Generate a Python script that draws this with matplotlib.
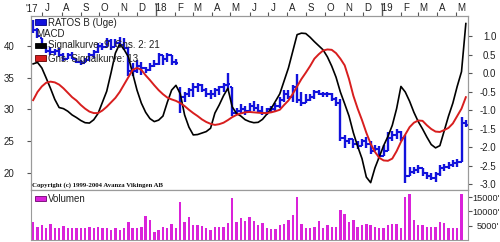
import matplotlib
matplotlib.use("Agg")
import matplotlib.pyplot as plt
import numpy as np
import pandas as pd
from matplotlib.patches import Rectangle

plt.rcParams['font.family'] = ['Liberation Sans', 'DejaVu Sans']
plt.rcParams['axes.unicode_minus'] = False

# ---------------- data ----------------
first_week = "2017-06-16"

opens = [43.5, 42.5, 41.3, 40.0, 39.2, 39.0, 39.2, 38.5, 38.0, 38.5,
         38.0, 37.5, 37.3, 37.8, 38.5, 39.0, 40.0, 39.8, 40.8, 39.8,
         40.5, 40.2, 39.7, 36.0, 36.0, 36.8, 36.5, 36.2, 36.9, 37.2,
         38.5, 38.0, 38.6, 37.5, 33.0, 32.0, 32.5, 33.0, 33.5, 33.8,
         33.0, 32.5, 32.5, 33.0, 33.5, 33.8, 33.5, 29.5, 29.8, 30.0,
         29.8, 30.5, 30.3, 29.8, 29.5, 30.0, 30.0, 30.5, 31.5, 32.5,
         32.0, 33.5, 31.5, 31.0, 31.5, 32.0, 32.8, 32.5, 32.5, 32.5,
         31.7, 31.0, 25.5, 25.0, 25.3, 24.5, 24.3, 25.0, 24.5, 23.5,
         23.8, 22.7, 23.5, 25.5, 26.0, 26.5, 25.5, 19.5, 20.2, 20.5,
         20.8, 20.0, 19.5, 19.3, 19.8, 20.8, 21.0, 21.3, 21.6, 21.8,
         27.8]
highs = [44.0, 42.8, 41.3, 40.0, 39.8, 39.5, 39.7, 38.8, 38.8, 39.0,
         38.1, 37.8, 38.1, 38.8, 39.4, 40.5, 40.5, 41.3, 41.0, 41.0,
         41.4, 41.2, 39.8, 37.3, 37.8, 37.5, 36.7, 37.3, 37.8, 38.9,
         38.6, 38.9, 38.6, 38.0, 33.5, 32.8, 33.4, 34.2, 34.2, 34.0,
         33.4, 33.1, 33.4, 33.7, 34.2, 35.8, 33.5, 30.3, 30.8, 30.5,
         31.0, 31.3, 30.8, 30.5, 30.3, 30.5, 31.0, 31.9, 33.1, 33.1,
         33.9, 35.5, 32.7, 32.5, 32.5, 33.1, 33.0, 32.8, 32.8, 32.6,
         32.0, 31.6, 26.0, 25.5, 25.3, 25.0, 25.4, 25.7, 25.0, 24.4,
         24.2, 24.4, 26.4, 26.6, 27.0, 26.6, 26.0, 21.0, 21.0, 21.2,
         20.8, 20.2, 20.0, 20.2, 21.2, 21.4, 21.8, 22.0, 22.2, 28.8,
         28.4]
lows = [42.0, 41.2, 39.5, 38.8, 38.6, 38.6, 38.3, 37.6, 37.9, 37.9,
        37.3, 37.0, 37.3, 37.6, 38.1, 38.9, 39.4, 39.8, 39.4, 39.8,
        39.8, 39.4, 35.2, 35.2, 35.8, 35.4, 35.8, 36.0, 36.6, 37.0,
        37.0, 37.5, 37.0, 37.0, 29.5, 31.1, 31.9, 32.0, 32.7, 32.7,
        31.9, 31.6, 32.0, 32.3, 32.7, 33.1, 29.0, 29.2, 29.5, 29.2,
        29.5, 29.7, 29.5, 29.2, 29.2, 29.5, 29.7, 30.3, 31.1, 31.6,
        31.1, 31.0, 30.5, 31.0, 31.3, 31.6, 32.2, 32.0, 32.0, 31.3,
        30.5, 25.0, 24.0, 24.5, 24.0, 23.8, 24.2, 24.0, 23.0, 23.4,
        22.2, 22.7, 23.5, 25.0, 25.3, 25.0, 18.5, 19.5, 19.8, 20.0,
        19.5, 19.1, 18.9, 18.6, 19.5, 20.3, 20.6, 20.9, 20.9, 21.8,
        27.3]
closes = [42.5, 41.5, 40.0, 39.2, 39.0, 39.2, 38.5, 38.0, 38.5, 38.0,
          37.5, 37.3, 37.8, 38.5, 39.0, 40.0, 39.8, 40.8, 39.8, 40.5,
          40.2, 39.7, 36.0, 36.0, 36.8, 36.5, 36.2, 36.9, 37.2, 38.5,
          38.0, 38.6, 37.5, 37.3, 32.0, 32.5, 33.0, 33.5, 33.8, 33.0,
          32.5, 32.5, 33.0, 33.5, 33.8, 34.0, 29.5, 29.8, 30.0, 29.8,
          30.5, 30.3, 29.8, 29.5, 30.0, 30.0, 30.5, 31.5, 32.5, 32.0,
          33.5, 31.5, 31.0, 31.5, 32.0, 32.8, 32.5, 32.5, 32.5, 31.7,
          31.0, 25.5, 25.0, 25.3, 24.5, 24.3, 25.0, 24.5, 23.5, 23.8,
          22.7, 23.5, 25.5, 26.0, 26.5, 25.5, 19.5, 20.2, 20.5, 20.8,
          20.0, 19.5, 19.3, 19.8, 20.8, 21.0, 21.3, 21.6, 21.8, 27.8,
          27.5]

macd = [0.26, 0.30, 0.15, -0.12, -0.40, -0.70, -0.92, -0.95, -1.02, -1.12,
        -1.19, -1.27, -1.33, -1.34, -1.25, -1.08, -0.78, -0.48, 0.02, 0.55,
        0.80, 0.65, 0.45, 0.00, -0.45, -0.80, -1.05, -1.22, -1.30, -1.26,
        -1.15, -0.78, -0.45, -0.32, -0.55, -1.12, -1.45, -1.66, -1.65, -1.61,
        -1.57, -1.48, -1.07, -0.85, -0.60, -0.40, -0.90, -1.08, -1.15, -1.25,
        -1.30, -1.33, -1.32, -1.24, -1.10, -0.95, -0.75, -0.55, -0.20, 0.15,
        0.60, 1.05, 1.09, 1.08, 0.98, 0.86, 0.75, 0.64, 0.45, 0.20,
        -0.10, -0.50, -0.82, -1.15, -1.60, -1.97, -2.30, -2.80, -2.95, -2.55,
        -2.25, -1.95, -1.70, -1.40, -0.95, -0.35, -0.50, -0.75, -1.05, -1.30,
        -1.50, -1.72, -1.92, -2.01, -1.95, -1.55, -1.15, -0.80, -0.35, 0.05,
        1.35]
signal = [-0.72, -0.50, -0.35, -0.25, -0.22, -0.24, -0.30, -0.40, -0.52, -0.64,
          -0.73, -0.85, -0.95, -1.03, -1.07, -1.07, -1.00, -0.90, -0.78, -0.66,
          -0.50, -0.30, -0.10, 0.10, 0.15, 0.10, -0.05, -0.18, -0.32, -0.45,
          -0.56, -0.65, -0.70, -0.74, -0.80, -0.88, -0.98, -1.07, -1.15, -1.24,
          -1.31, -1.36, -1.39, -1.37, -1.33, -1.26, -1.18, -1.12, -1.08, -1.05,
          -1.04, -1.05, -1.06, -1.07, -1.07, -1.05, -1.02, -0.98, -0.85, -0.73,
          -0.55, -0.35, -0.15, 0.02, 0.20, 0.40, 0.52, 0.62, 0.65, 0.64,
          0.55, 0.40, 0.22, -0.15, -0.60, -0.95, -1.26, -1.60, -1.90, -2.12,
          -2.28, -2.35, -2.36, -2.30, -2.10, -1.85, -1.65, -1.45, -1.33, -1.27,
          -1.28, -1.40, -1.50, -1.57, -1.58, -1.53, -1.47, -1.35, -1.15, -0.95,
          -0.64]

volume = [6400, 4700, 5250, 4100, 5500, 4300, 4100, 5000, 4100, 4300,
          4100, 4300, 4300, 4700, 4100, 4700, 4100, 4100, 3500, 4100,
          3500, 4100, 6400, 4100, 4100, 4700, 8400, 7000, 2900, 3500,
          4700, 4300, 5500, 4100, 13400, 6400, 7900, 5250, 5250, 5000,
          4100, 3500, 4700, 4700, 4700, 5800, 14600, 6200, 7600, 6650,
          7900, 6650, 5250, 5800, 4100, 3850, 3850, 5250, 5500, 7000,
          8750, 15200, 5500, 4100, 4100, 4700, 6650, 4100, 5250, 4700,
          4700, 10500, 9100, 6400, 7000, 4700, 5250, 5500, 5250, 4700,
          4300, 4100, 5250, 5500, 5500, 4100, 15200, 16000, 7000, 5250,
          5250, 4700, 4700, 4700, 6400, 5800, 4100, 4100, 4100, 16000,
          0]

month_starts = ["2017-07-01", "2017-08-01", "2017-09-01", "2017-10-01", "2017-11-01",
                "2017-12-01", "2018-01-01", "2018-02-01", "2018-03-01", "2018-04-01",
                "2018-05-01", "2018-06-01", "2018-07-01", "2018-08-01", "2018-09-01",
                "2018-10-01", "2018-11-01", "2018-12-01", "2019-01-01", "2019-02-01",
                "2019-03-01", "2019-04-01", "2019-05-01"]
month_labels = ["J", "A", "S", "O", "N", "D", "'18", "F", "M", "A", "M", "J",
                "J", "A", "S", "O", "N", "D", "'19", "F", "M", "A", "M"]
price_ticks = [20, 25, 30, 35, 40]
macd_ticks = [-3.0, -2.5, -2.0, -1.5, -1.0, -0.5, 0.0, 0.5, 1.0]
vol_ticks = [5000, 10000, 15000]
vol_labels = ["5000'", "10000'", "15000'"]

legend_items = ["RATOS B (Uge)", "MACD", "Signalkurve: 9, Gns. 2: 21", "Gns. Signalkurve: 13"]

# ---------------- styling ----------------
W, H = 500, 242
BLUE = "#1212DC"
RED = "#D81E1E"
MAG = "#DA22DA"
FRAME = "#9a9a9a"
TXT = "#222222"
FS = 7


def fx(x):
    return x / W


def fy(y):
    return 1 - y / H


weeks = np.arange(len(closes))
start = pd.Timestamp(first_week)
mpos = np.array([(pd.Timestamp(m) - start).days / 7.0 for m in month_starts])
lpos = mpos + 8 / 7.0

fig = plt.figure(figsize=(W / 100, H / 100), dpi=100)
fig.patch.set_facecolor("white")

left, right, top, mid, bottom = 31, 468, 16, 190, 240
ax = fig.add_axes([fx(left), fy(mid), fx(right - left), (mid - top) / H])
axv = fig.add_axes([fx(left), fy(bottom), fx(right - left), (bottom - mid) / H])

xlim = (-0.5, len(closes) - 0.5)

# price bars
ax.vlines(weeks, lows, highs, color=BLUE, lw=1.7, zorder=2)
ax.hlines(opens, weeks - 0.5, weeks, color=BLUE, lw=1.5, zorder=2)
ax.hlines(closes, weeks, weeks + 0.5, color=BLUE, lw=1.5, zorder=2)
ax.set_xlim(*xlim)
ax.set_ylim(17.34, 44.69)

# macd
ax2 = ax.twinx()
ax2.plot(weeks, macd, color="black", lw=1.2, zorder=3)
ax2.plot(weeks, signal, color=RED, lw=1.4, zorder=3)
ax2.set_ylim(-3.149, 1.554)
ax2.set_xlim(*xlim)

# top month axis
ax.xaxis.set_ticks_position("top")
ax.set_xticks(mpos)
ax.set_xticklabels([""] * len(mpos))
ax.set_xticks(lpos, minor=True)
ax.set_xticklabels(month_labels, minor=True)
ax.tick_params(axis="x", which="major", top=True, bottom=False, length=3,
               width=0.8, color="#555555", labeltop=False, labelbottom=False)
ax.tick_params(axis="x", which="minor", top=True, bottom=False, length=0,
               labeltop=True, labelbottom=False, labelsize=FS, pad=2.5, labelcolor=TXT)
for t, lab in zip(ax.xaxis.get_major_ticks(), month_labels):
    if lab.startswith("'"):
        t.tick2line.set_markersize(9.5)
        t.tick2line.set_color("#333333")
        t.tick2line.set_markeredgewidth(1.0)
fig.text(fx(32), fy(9.5), "'17", fontsize=FS, color=TXT, ha="center", va="center")

# left price axis
ax.set_yticks(price_ticks)
ax.set_yticklabels([str(v) for v in price_ticks])
ax.tick_params(axis="y", left=True, length=3, width=0.8, color="#555555",
               labelsize=FS, pad=9, labelcolor=TXT)

# right macd axis
ax2.set_yticks(macd_ticks)
ax2.set_yticklabels(["%.1f" % v for v in macd_ticks])
ax2.tick_params(axis="y", right=True, length=3, width=0.8, color="#555555",
                labelsize=FS, pad=17.5, labelcolor=TXT)
for lab in ax2.get_yticklabels():
    lab.set_horizontalalignment("right")

for a in (ax, ax2):
    for s in a.spines.values():
        s.set_color(FRAME)
        s.set_linewidth(0.8)

# volume
axv.bar(weeks, volume, width=0.55, color=MAG, zorder=2)
axv.set_xlim(*xlim)
axv.set_ylim(0, 17480)
axv.set_xticks([])
axv.yaxis.set_ticks_position("right")
axv.set_yticks(vol_ticks)
axv.set_yticklabels(vol_labels)
axv.tick_params(axis="y", right=True, left=False, length=3, width=0.8, color="#555555",
                labelsize=6.6, pad=19.5, labelcolor=TXT)
for lab in axv.get_yticklabels():
    lab.set_horizontalalignment("right")
for s in axv.spines.values():
    s.set_color(FRAME)
    s.set_linewidth(0.8)

# legend (drawn over the data)
def box(x, y, color, edge):
    fig.patches.append(Rectangle((fx(x), fy(y + 5)), fx(11), 5 / H, transform=fig.transFigure,
                                 facecolor=color, edgecolor=edge, lw=0.6, zorder=5))

box(35, 19.5, BLUE, "#000080")
fig.text(fx(48), fy(22.5), legend_items[0], fontsize=FS, color=TXT, va="center", ha="left", zorder=6)
fig.text(fx(36), fy(34), legend_items[1], fontsize=FS, color=TXT, va="center", ha="left", zorder=6)
box(35, 42.5, "black", "black")
fig.text(fx(48), fy(45.5), legend_items[2], fontsize=FS, color=TXT, va="center", ha="left", zorder=6)
box(35, 55.5, RED, "#600000")
fig.text(fx(48), fy(58.5), legend_items[3], fontsize=FS, color=TXT, va="center", ha="left", zorder=6)

fig.text(fx(32), fy(185), "Copyright (c) 1999-2004 Avanza Vikingen AB", fontsize=4.9,
         family=["Liberation Serif", "DejaVu Serif"], color="#111111", va="center", ha="left",
         fontweight="bold", zorder=6)

box(35, 196, MAG, "#700070")
fig.text(fx(48), fy(198.5), "Volumen", fontsize=FS, color=TXT, va="center", ha="left", zorder=6)

fig.savefig("out.png", dpi=100, facecolor="white")
